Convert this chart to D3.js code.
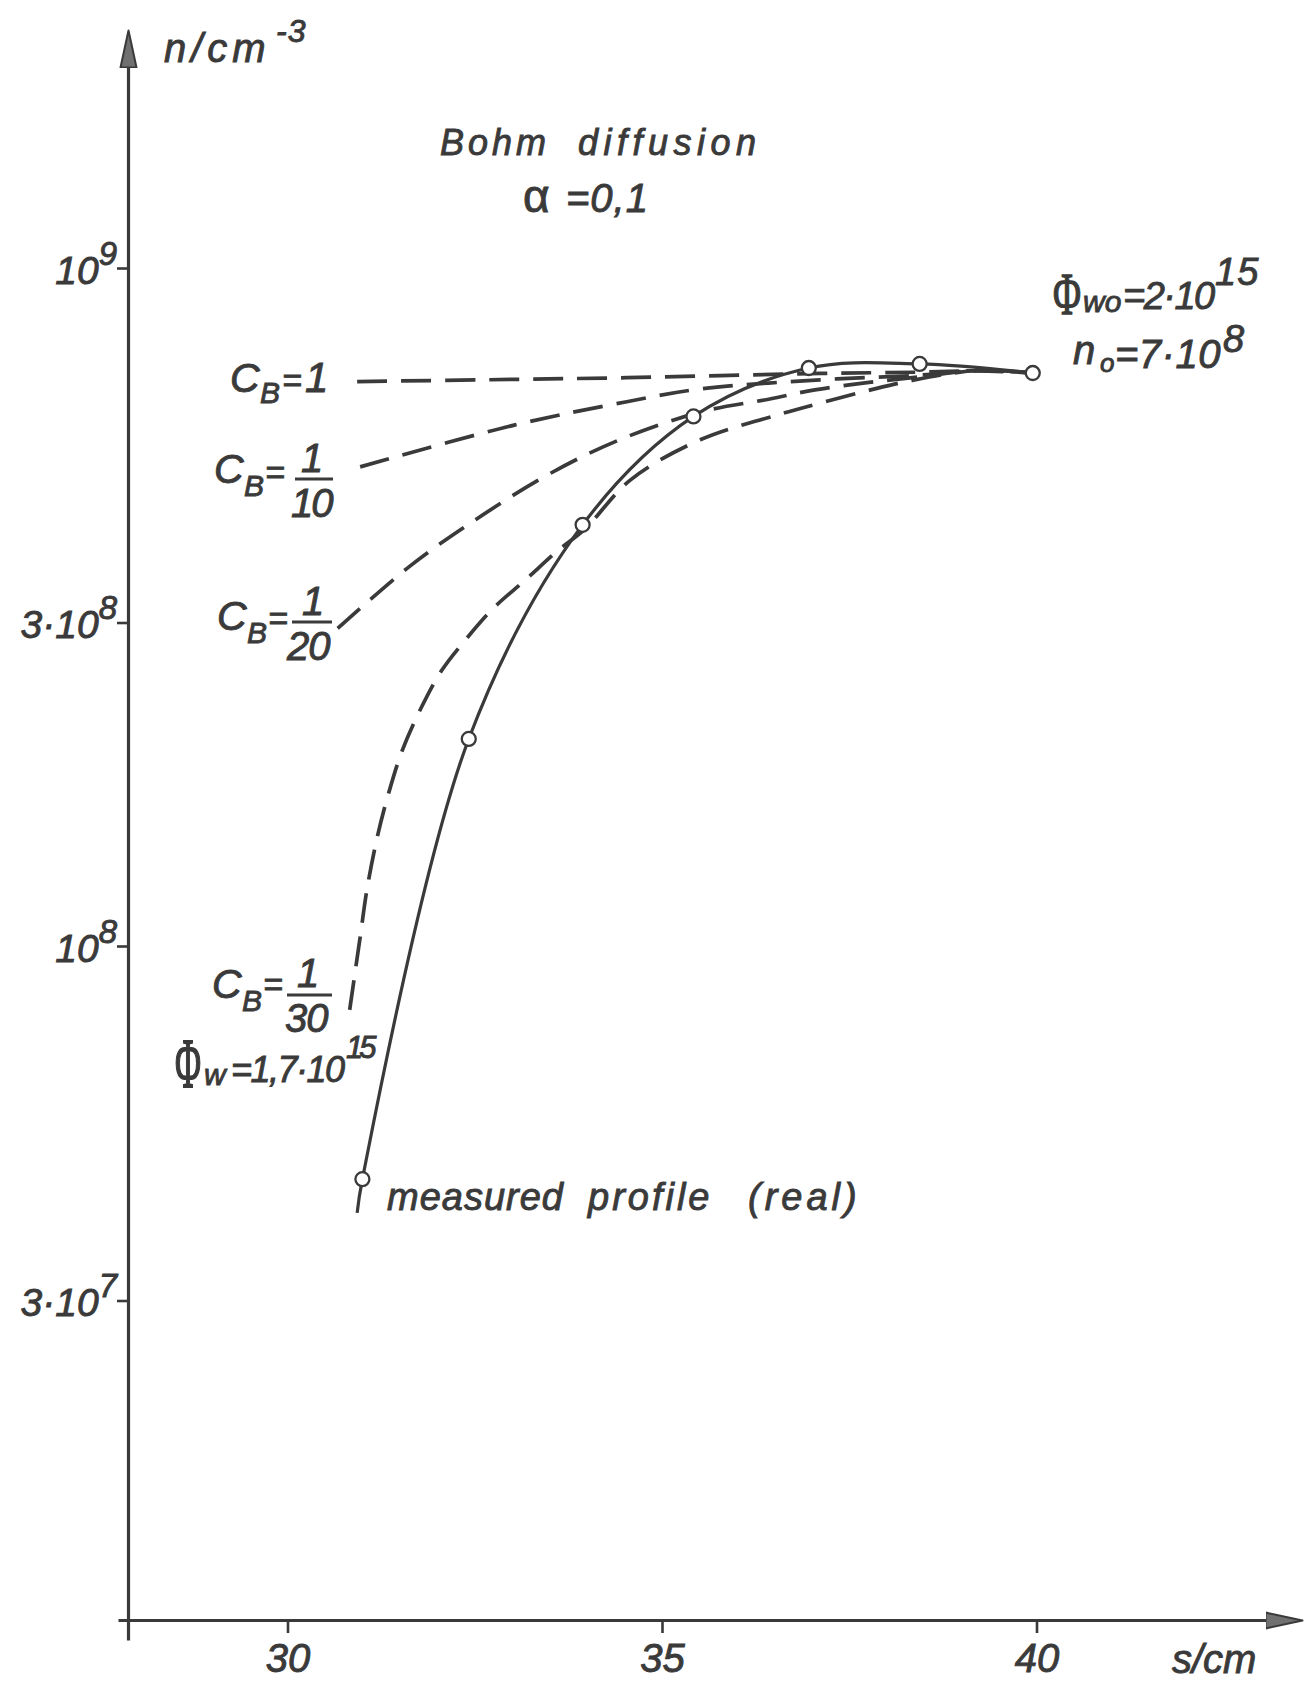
<!DOCTYPE html>
<html>
<head>
<meta charset="utf-8">
<script src="https://cdn.jsdelivr.net/npm/d3@7"></script>
<style>
  html, body { margin: 0; padding: 0; background: #fff; }
  svg { display: block; }
  text { font-family: "Liberation Sans", "DejaVu Sans", sans-serif; font-style: italic;
         fill: #3a3a3a; stroke: #3a3a3a; stroke-width: 0.9px; }
</style>
</head>
<body>
<svg id="chart" width="1309" height="1683"></svg>
<script>
// Electron density profiles n(s) for Bohm diffusion, alpha = 0.1

// Measured profile (real): points marked with circles
const measuredS = [31.0, 32.42, 33.94, 35.42, 36.96, 38.44, 39.95];
const measuredN = [4.53e7, 2.02e8, 4.18e8, 6.04e8, 7.12e8, 7.22e8, 7.0e8];
// The measured line continues a little below its first marked point
const measuredTailS = [30.93];
const measuredTailN = [4.04e7];

// Computed profiles for several Bohm coefficients C_B
const cb1S  = [30.93, 33.0, 34.53, 37.11, 38.44, 39.21, 39.95];
const cb1N  = [6.80e8, 6.85e8, 6.89e8, 6.99e8, 7.02e8, 7.05e8, 7.0e8];

const cb10S = [30.97, 33.04, 34.53, 35.51, 37.11, 38.44, 39.21, 39.95];
const cb10N = [5.09e8, 5.87e8, 6.35e8, 6.63e8, 6.84e8, 6.95e8, 7.06e8, 7.0e8];

const cb20S = [30.67, 31.63, 32.45, 33.44, 34.40, 35.51, 36.44, 37.04, 37.71, 38.44, 39.21, 39.95];
const cb20N = [2.94e8, 3.63e8, 4.21e8, 4.93e8, 5.56e8, 6.13e8, 6.41e8, 6.61e8, 6.77e8, 6.91e8, 7.06e8, 7.0e8];

const cb30S = [30.83, 30.975, 31.06, 31.20, 31.35, 31.53, 31.78, 32.06, 32.39, 32.75, 33.18, 33.61,
               33.97, 34.58, 35.51, 36.54, 37.11, 37.74, 38.29, 39.21, 39.95];
const cb30N = [8.05e7, 1.04e8, 1.21e8, 1.45e8, 1.68e8, 1.94e8, 2.24e8, 2.55e8, 2.84e8, 3.15e8, 3.47e8, 3.83e8,
               4.12e8, 4.87e8, 5.58e8, 6.07e8, 6.32e8, 6.59e8, 6.81e8, 7.06e8, 7.0e8];

// Axis ticks
const xTicks = [30, 35, 40];
const xTickLabels = ["30", "35", "40"];
const yTicks = [1e9, 3e8, 1e8, 3e7];
const yTickBase = ["10", "3·10", "10", "3·10"];
const yTickExp = ["9", "8", "8", "7"];

const INK = "#3a3a3a";
const svg = d3.select("#chart");

// Scales: linear in s, logarithmic in n
const x = d3.scaleLinear().domain([30, 40]).range([287.5, 1036.5]);
const y = d3.scaleLog().domain([1e8, 1e9]).range([946, 268]);

// Axis scales span the full drawn axis lines
const axisX0 = 128, axisY0 = 1620;
const xAxisScale = x.copy().domain([x.invert(118), x.invert(1266)]).range([118, 1266]);
const yAxisScale = y.copy().domain([y.invert(1640), y.invert(66)]).range([1640, 66]);

// Arrowheads
const defs = svg.append("defs");
defs.append("marker")
  .attr("id", "arrow")
  .attr("markerUnits", "userSpaceOnUse")
  .attr("markerWidth", 42).attr("markerHeight", 20)
  .attr("viewBox", "0 -10 42 20")
  .attr("refX", 1).attr("refY", 0)
  .attr("orient", "auto")
  .append("path")
  .attr("d", "M0,-8 L37,0 L0,8 Z")
  .attr("fill", "#707070")
  .attr("stroke", INK)
  .attr("stroke-width", 2)
  .attr("stroke-linejoin", "round");

// X axis
const gx = svg.append("g")
  .attr("transform", `translate(0,${axisY0})`)
  .call(d3.axisBottom(xAxisScale).tickValues(xTicks).tickSize(13).tickSizeOuter(0).tickFormat(""));
// Y axis
const gy = svg.append("g")
  .attr("transform", `translate(${axisX0},0)`)
  .call(d3.axisLeft(yAxisScale).tickValues(yTicks).tickSize(11).tickSizeOuter(0).tickFormat(""));

[gx, gy].forEach(g => {
  g.select(".domain").attr("stroke", INK).attr("stroke-width", 3.2).attr("marker-end", "url(#arrow)");
  g.selectAll(".tick line").attr("stroke", INK).attr("stroke-width", 2.6);
});

gx.selectAll(".tick").each(function (d, i) {
  d3.select(this).append("text")
    .attr("x", 0).attr("y", 52)
    .attr("text-anchor", "middle")
    .attr("font-size", 40)
    .text(xTickLabels[i]);
});

gy.selectAll(".tick").each(function (d, i) {
  const t = d3.select(this).append("text")
    .attr("x", -11).attr("y", 15)
    .attr("text-anchor", "end")
    .attr("font-size", 39);
  t.append("tspan").text(yTickBase[i]);
  t.append("tspan").attr("dy", -19).attr("font-size", 33).text(yTickExp[i]);
});

// Curves
const line = d3.line()
  .x(d => x(d[0]))
  .y(d => y(d[1]))
  .curve(d3.curveCatmullRom.alpha(0.5));

const zip = (a, b) => a.map((v, i) => [v, b[i]]);

const dashed = [zip(cb1S, cb1N), zip(cb10S, cb10N), zip(cb20S, cb20N), zip(cb30S, cb30N)];
svg.append("g").selectAll("path")
  .data(dashed)
  .join("path")
  .attr("d", line)
  .attr("fill", "none")
  .attr("stroke", INK)
  .attr("stroke-width", 3.7)
  .attr("stroke-dasharray", "30,14");

const measured = zip(measuredTailS.concat(measuredS), measuredTailN.concat(measuredN));
svg.append("path")
  .attr("d", line(measured))
  .attr("fill", "none")
  .attr("stroke", INK)
  .attr("stroke-width", 3.2);

svg.append("g").selectAll("circle")
  .data(zip(measuredS, measuredN))
  .join("circle")
  .attr("cx", d => x(d[0]))
  .attr("cy", d => y(d[1]))
  .attr("r", 7)
  .attr("fill", "#fff")
  .attr("stroke", INK)
  .attr("stroke-width", 2.3);

// Lettering: each label is one text element built from absolutely placed pieces
const ann = svg.append("g");
function label(parts) {
  const t = ann.append("text");
  parts.forEach(p => {
    const s = t.append("tspan").attr("x", p.x).attr("y", p.y).attr("font-size", p.size).text(p.t);
    if (p.ls !== undefined) s.attr("letter-spacing", p.ls);
    if (p.upright) s.style("font-style", "normal");
  });
  return t;
}
// Phi with drafting serifs, narrowed horizontally to the lettering width
function phi(px, py, size, w) {
  const g = ann.append("g");
  const t = g.append("text").attr("x", 0).attr("y", 0).attr("font-size", size)
    .style("font-family", '"Liberation Serif", "DejaVu Serif", serif').style("font-style", "normal")
    .text("Φ");
  const natural = t.node().getComputedTextLength() || size * 0.76;
  g.attr("transform", `translate(${px},${py}) scale(${w / natural},1)`);
  t.style("stroke-width", `${0.9 * natural / w}px`);
}
function bar(x1, x2, yy) {
  ann.append("line").attr("x1", x1).attr("x2", x2).attr("y1", yy).attr("y2", yy)
    .attr("stroke", INK).attr("stroke-width", 3);
}

// axis titles
label([{ t: "n/cm", x: 164, y: 62, size: 40, ls: 5 }, { t: "-3", x: 276, y: 42, size: 32, ls: 1 }]);
label([{ t: "s/cm", x: 1172, y: 1673, size: 40 }]);

// heading
label([{ t: "Bohm", x: 440, y: 155, size: 36, ls: 4 }, { t: "diffusion", x: 578, y: 155, size: 36, ls: 5.5 }]);
label([{ t: "α", x: 523, y: 212, size: 46, upright: true }, { t: "=0,1", x: 566, y: 212, size: 40, ls: 1 }]);

// boundary values
phi(1053, 314, 60, 28);
label([
  { t: "wo", x: 1083, y: 312, size: 30 },
  { t: "=2·10", x: 1123, y: 309, size: 38, ls: -1.5 },
  { t: "15", x: 1215, y: 285, size: 38, ls: 1 }
]);
label([
  { t: "n", x: 1073, y: 364, size: 40 },
  { t: "o", x: 1100, y: 372, size: 26 },
  { t: "=7·10", x: 1115, y: 368, size: 40, ls: 0.5 },
  { t: "8", x: 1223, y: 352, size: 38 }
]);

// C_B = 1
label([
  { t: "C", x: 230, y: 392, size: 41 },
  { t: "B", x: 260, y: 403, size: 30 },
  { t: "=", x: 282, y: 392, size: 34 },
  { t: "1", x: 305, y: 392, size: 42 }
]);
// C_B = 1/10
label([
  { t: "C", x: 214, y: 483, size: 41 },
  { t: "B", x: 244, y: 496, size: 30 },
  { t: "=", x: 265, y: 484, size: 34 }
]);
label([{ t: "1", x: 301, y: 472, size: 40 }]);
bar(295, 333, 479);
label([{ t: "10", x: 291, y: 517, size: 40, ls: -2 }]);
// C_B = 1/20
label([
  { t: "C", x: 217, y: 630, size: 41 },
  { t: "B", x: 247, y: 643, size: 30 },
  { t: "=", x: 268, y: 630, size: 34 }
]);
label([{ t: "1", x: 302, y: 615, size: 40 }]);
bar(292, 332, 622);
label([{ t: "20", x: 287, y: 660, size: 40, ls: -1 }]);
// C_B = 1/30
label([
  { t: "C", x: 212, y: 998, size: 41 },
  { t: "B", x: 242, y: 1011, size: 30 },
  { t: "=", x: 263, y: 996, size: 34 }
]);
label([{ t: "1", x: 297, y: 987, size: 40 }]);
bar(287, 332, 995);
label([{ t: "30", x: 285, y: 1032, size: 40, ls: -1 }]);

phi(175, 1087, 70, 26);
label([
  { t: "w", x: 204, y: 1085, size: 30 },
  { t: "=1,7·10", x: 231, y: 1082, size: 36, ls: -1.5 }
]);
label([{ t: "15", x: 346, y: 1058, size: 31, ls: -4 }]);

label([
  { t: "measured", x: 387, y: 1210, size: 38, ls: 1 },
  { t: "profile", x: 588, y: 1210, size: 38, ls: 3 },
  { t: "(real)", x: 748, y: 1210, size: 38, ls: 4 }
]);
</script>
</body>
</html>
